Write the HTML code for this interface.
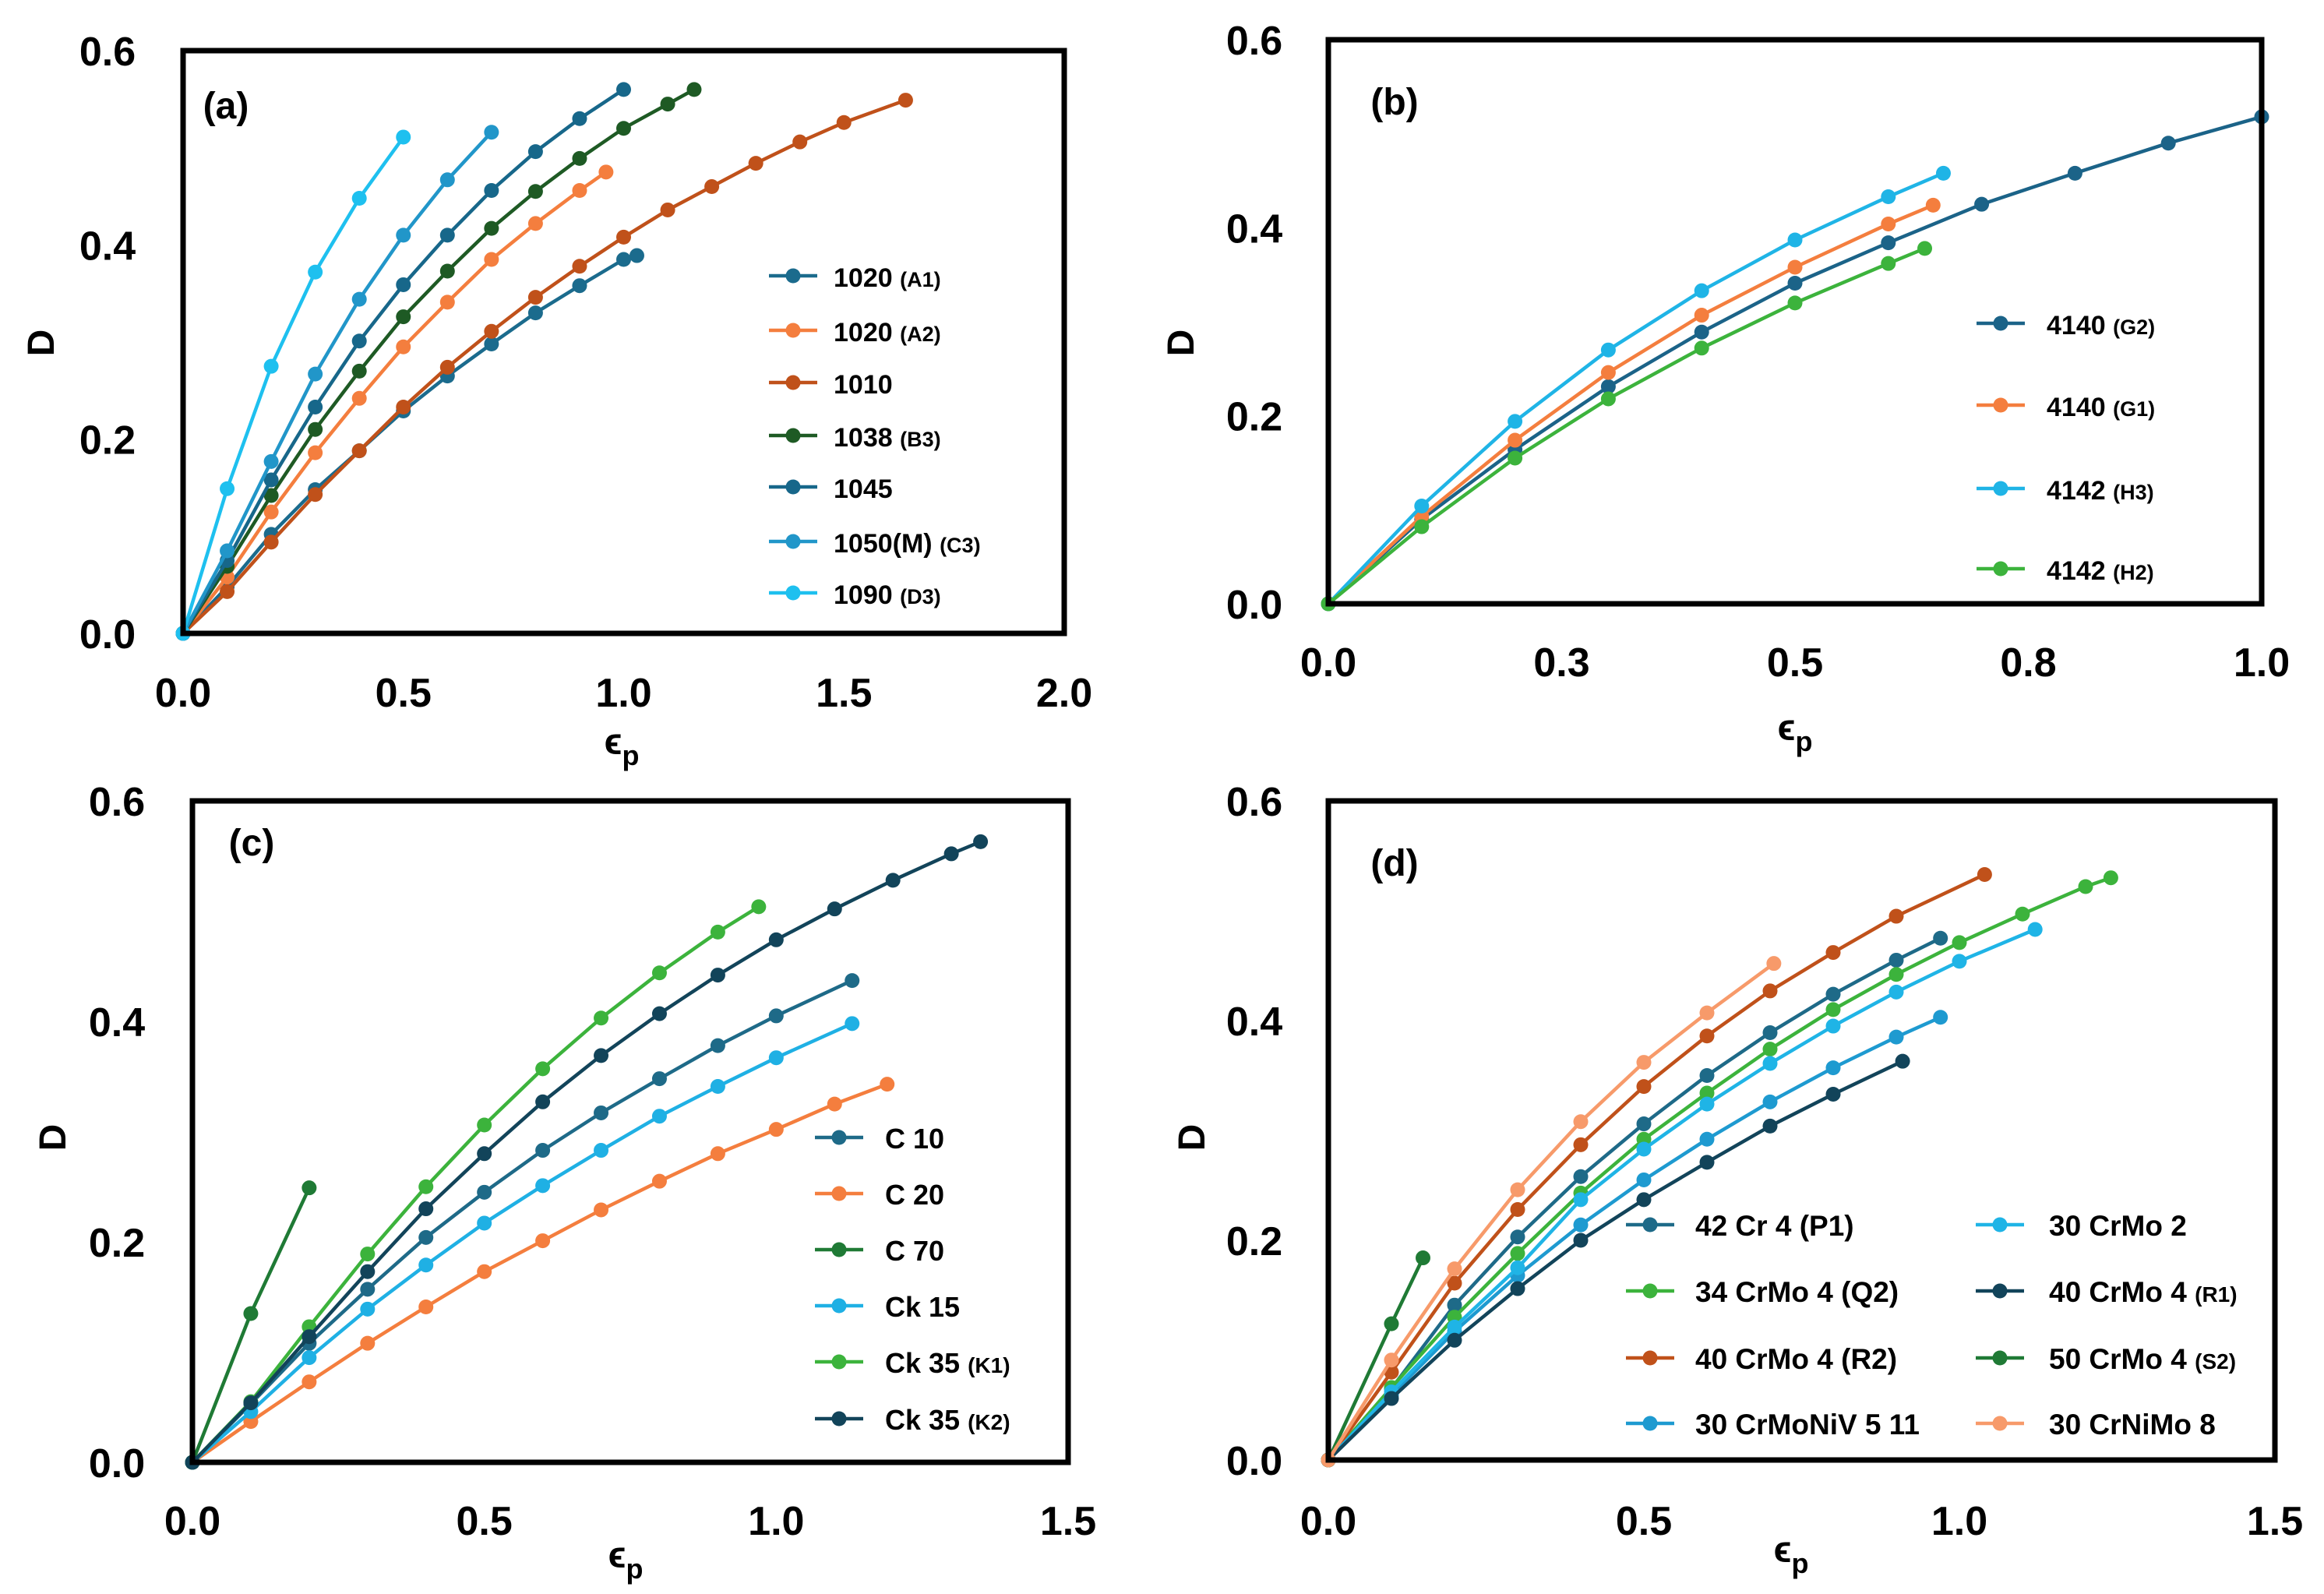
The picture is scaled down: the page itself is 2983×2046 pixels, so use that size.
<!DOCTYPE html>
<html><head><meta charset="utf-8"><title>Damage vs plastic strain</title>
<style>
html,body{margin:0;padding:0;background:#fff;}
svg{display:block;font-family:"Liberation Sans",Arial,sans-serif;font-weight:bold;}
</style></head>
<body>
<svg id="fig" xmlns="http://www.w3.org/2000/svg" width="2983" height="2046" viewBox="0 0 2983 2046"></svg>
<script>
// ---------- Panel (a) data ----------
const aNames = ["1020", "1020", "1010", "1038", "1045", "1050(M)", "1090"];
const aTags = ["(A1)", "(A2)", "", "(B3)", "", "(C3)", "(D3)"];
const aX_A1 = [0,0.1,0.2,0.3,0.4,0.5,0.6,0.7,0.8,0.9,1.0,1.03];
const aY_A1 = [0,0.048,0.102,0.148,0.188,0.229,0.265,0.298,0.330,0.358,0.385,0.389];
const aX_A2 = [0,0.1,0.2,0.3,0.4,0.5,0.6,0.7,0.8,0.9,0.96];
const aY_A2 = [0,0.058,0.125,0.186,0.242,0.295,0.341,0.385,0.422,0.456,0.475];
const aX_1010 = [0,0.1,0.2,0.3,0.4,0.5,0.6,0.7,0.8,0.9,1.0,1.1,1.2,1.3,1.4,1.5,1.64];
const aY_1010 = [0,0.043,0.094,0.143,0.188,0.233,0.274,0.311,0.346,0.378,0.408,0.436,0.460,0.484,0.506,0.526,0.549];
const aX_B3 = [0,0.1,0.2,0.3,0.4,0.5,0.6,0.7,0.8,0.9,1.0,1.1,1.16];
const aY_B3 = [0,0.069,0.142,0.210,0.270,0.326,0.373,0.417,0.455,0.489,0.520,0.545,0.560];
const aX_1045 = [0,0.1,0.2,0.3,0.4,0.5,0.6,0.7,0.8,0.9,1.0];
const aY_1045 = [0,0.075,0.158,0.233,0.301,0.359,0.410,0.456,0.496,0.530,0.560];
const aX_C3 = [0,0.1,0.2,0.3,0.4,0.5,0.6,0.7];
const aY_C3 = [0,0.085,0.177,0.267,0.344,0.410,0.467,0.516];
const aX_D3 = [0,0.1,0.2,0.3,0.4,0.5];
const aY_D3 = [0,0.149,0.275,0.372,0.448,0.511];
const aXTicks = ["0.0","0.5","1.0","1.5","2.0"];
const aXTickVals = [0,0.5,1.0,1.5,2.0];

// ---------- Panel (b) data ----------
const bNames = ["4140","4140","4142","4142"];
const bTags = ["(G2)","(G1)","(H3)","(H2)"];
const bX_G2 = [0,0.1,0.2,0.3,0.4,0.5,0.6,0.7,0.8,0.9,1.0];
const bY_G2 = [0,0.090,0.164,0.231,0.289,0.341,0.384,0.425,0.458,0.490,0.518];
const bX_G1 = [0,0.1,0.2,0.3,0.4,0.5,0.6,0.648];
const bY_G1 = [0,0.093,0.174,0.246,0.307,0.358,0.404,0.424];
const bX_H3 = [0,0.1,0.2,0.3,0.4,0.5,0.6,0.659];
const bY_H3 = [0,0.104,0.194,0.270,0.333,0.387,0.433,0.458];
const bX_H2 = [0,0.1,0.2,0.3,0.4,0.5,0.6,0.639];
const bY_H2 = [0,0.082,0.155,0.218,0.272,0.320,0.362,0.378];
const bXTicks = ["0.0","0.3","0.5","0.8","1.0"];
const bXTickVals = [0,0.25,0.5,0.75,1.0];

// ---------- Panel (c) data ----------
const cNames = ["C 10","C 20","C 70","Ck 15","Ck 35","Ck 35"];
const cTags = ["","","","","(K1)","(K2)"];
const cX_C10 = [0,0.1,0.2,0.3,0.4,0.5,0.6,0.7,0.8,0.9,1.0,1.13];
const cY_C10 = [0,0.053,0.108,0.157,0.204,0.245,0.283,0.317,0.348,0.378,0.405,0.437];
const cX_C20 = [0,0.1,0.2,0.3,0.4,0.5,0.6,0.7,0.8,0.9,1.0,1.1,1.19];
const cY_C20 = [0,0.037,0.073,0.108,0.141,0.173,0.201,0.229,0.255,0.280,0.302,0.325,0.343];
const cX_C70 = [0,0.1,0.2];
const cY_C70 = [0,0.135,0.249];
const cX_Ck15 = [0,0.1,0.2,0.3,0.4,0.5,0.6,0.7,0.8,0.9,1.0,1.13];
const cY_Ck15 = [0,0.046,0.095,0.139,0.179,0.217,0.251,0.283,0.314,0.341,0.367,0.398];
const cX_K1 = [0,0.1,0.2,0.3,0.4,0.5,0.6,0.7,0.8,0.9,0.97];
const cY_K1 = [0,0.055,0.123,0.189,0.250,0.306,0.357,0.403,0.444,0.481,0.504];
const cX_K2 = [0,0.1,0.2,0.3,0.4,0.5,0.6,0.7,0.8,0.9,1.0,1.1,1.2,1.3,1.35];
const cY_K2 = [0,0.054,0.114,0.173,0.230,0.280,0.327,0.369,0.407,0.442,0.474,0.502,0.528,0.552,0.563];
const cXTicks = ["0.0","0.5","1.0","1.5"];
const cXTickVals = [0,0.5,1.0,1.5];

// ---------- Panel (d) data ----------
const dNames = ["42 Cr 4","34 CrMo 4","40 CrMo 4","30 CrMoNiV 5 11","30 CrMo 2","40 CrMo 4","50 CrMo 4","30 CrNiMo 8"];
const dTags = ["(P1)","(Q2)","(R2)","","","(R1)","(S2)",""];
const dX_P1 = [0,0.1,0.2,0.3,0.4,0.5,0.6,0.7,0.8,0.9,0.97];
const dY_P1 = [0,0.065,0.141,0.203,0.258,0.306,0.350,0.389,0.424,0.455,0.475];
const dX_Q2 = [0,0.1,0.2,0.3,0.4,0.5,0.6,0.7,0.8,0.9,1.0,1.1,1.2,1.24];
const dY_Q2 = [0,0.066,0.130,0.188,0.243,0.292,0.334,0.374,0.410,0.442,0.471,0.497,0.522,0.530];
const dX_R2 = [0,0.1,0.2,0.3,0.4,0.5,0.6,0.7,0.8,0.9,1.04];
const dY_R2 = [0,0.080,0.161,0.228,0.287,0.340,0.386,0.427,0.462,0.495,0.533];
const dX_NiV = [0,0.1,0.2,0.3,0.4,0.5,0.6,0.7,0.8,0.9,0.97];
const dY_NiV = [0,0.059,0.117,0.168,0.214,0.255,0.292,0.326,0.357,0.385,0.403];
const dX_Mo2 = [0,0.1,0.2,0.3,0.4,0.5,0.6,0.7,0.8,0.9,1.0,1.12];
const dY_Mo2 = [0,0.062,0.121,0.175,0.237,0.283,0.324,0.361,0.395,0.426,0.454,0.483];
const dX_R1 = [0,0.1,0.2,0.3,0.4,0.5,0.6,0.7,0.8,0.91];
const dY_R1 = [0,0.056,0.109,0.156,0.200,0.237,0.271,0.304,0.333,0.363];
const dX_S2 = [0,0.1,0.15];
const dY_S2 = [0,0.124,0.184];
const dX_NiMo = [0,0.1,0.2,0.3,0.4,0.5,0.6,0.706];
const dY_NiMo = [0,0.091,0.174,0.246,0.308,0.362,0.407,0.452];
const dXTicks = ["0.0","0.5","1.0","1.5"];
const dXTickVals = [0,0.5,1.0,1.5];

const yTicks = ["0.0","0.2","0.4","0.6"];
const yTickVals = [0,0.2,0.4,0.6];

const NS = "http://www.w3.org/2000/svg";
const svg = document.getElementById("fig");
function mk(tag, attrs, parent){
  const e = document.createElementNS(NS, tag);
  for (const k in attrs) e.setAttribute(k, attrs[k]);
  (parent||svg).appendChild(e);
  return e;
}

const panels = [
  {id:"a", L:235, R:1366, T:65, B:813, xmax:2.0, xt:aXTicks, xv:aXTickVals,
   ylabX:138, xlabY:907, epsX:798, epsY:968, dX:52, dY:440, tagX:290, tagY:152,
   series:[[aX_A1,aY_A1,"#1b6b8d"],[aX_A2,aY_A2,"#f47e3e"],[aX_1010,aY_1010,"#c0511a"],[aX_B3,aY_B3,"#1e5a24"],[aX_1045,aY_1045,"#17678a"],[aX_C3,aY_C3,"#2196c9"],[aX_D3,aY_D3,"#1ec0ef"]],
   names:aNames, tags:aTags, legend:{cols:[{lx:987,tx:1070,rows:[354,424,491,559,625,695,761]}], fs:34, tfs:27}},
  {id:"b", L:1705, R:2903, T:51, B:775, xmax:1.0, xt:bXTicks, xv:bXTickVals,
   ylabX:1610, xlabY:868, epsX:2304, epsY:950, dX:1515, dY:440, tagX:1790, tagY:147,
   series:[[bX_G2,bY_G2,"#1b6388"],[bX_G1,bY_G1,"#f47e3e"],[bX_H3,bY_H3,"#1fb4e6"],[bX_H2,bY_H2,"#3cb33c"]],
   names:bNames, tags:bTags, legend:{cols:[{lx:2537,tx:2627,rows:[415,520,627,730]}], fs:34, tfs:27}},
  {id:"c", L:247, R:1371, T:1028, B:1877, xmax:1.5, xt:cXTicks, xv:cXTickVals,
   ylabX:150, xlabY:1970, epsX:803, epsY:2012, dX:67, dY:1460, tagX:323, tagY:1098,
   series:[[cX_C10,cY_C10,"#1e6a88"],[cX_C20,cY_C20,"#f47e3e"],[cX_C70,cY_C70,"#1f7a35"],[cX_Ck15,cY_Ck15,"#1fb0e4"],[cX_K1,cY_K1,"#3cb33c"],[cX_K2,cY_K2,"#12445a"]],
   names:cNames, tags:cTags, legend:{cols:[{lx:1046,tx:1136,rows:[1460,1532,1604,1676,1748,1821]}], fs:36, tfs:28}},
  {id:"d", L:1705, R:2920, T:1028, B:1874, xmax:1.5, xt:dXTicks, xv:dXTickVals,
   ylabX:1610, xlabY:1970, epsX:2299, epsY:2005, dX:1529, dY:1460, tagX:1790, tagY:1124,
   series:[[dX_P1,dY_P1,"#1e6a88"],[dX_Q2,dY_Q2,"#3cb33c"],[dX_R2,dY_R2,"#c0511a"],[dX_NiV,dY_NiV,"#1e9ad0"],[dX_Mo2,dY_Mo2,"#1fb4e6"],[dX_R1,dY_R1,"#12445a"],[dX_S2,dY_S2,"#1f7a35"],[dX_NiMo,dY_NiMo,"#f79a6a"]],
   names:dNames, tags:dTags, legend:{cols:[{lx:2087,tx:2176,rows:[1572,1657,1743,1827],idx:[0,1,2,3]},{lx:2536,tx:2630,rows:[1572,1657,1743,1827],idx:[4,5,6,7]}], fs:37, tfs:28, big:[0,1,2]}}
];

panels.forEach(p => {
  const g = mk("g", {});
  
  
  const sx = v => p.L + v / p.xmax * (p.R - p.L);
  const sy = v => p.B - v / 0.6 * (p.B - p.T);

  p.series.forEach((s, i) => {
    const sg = mk("g", {}, g);
    
    
    const pts = s[0].map((x, j) => sx(x).toFixed(1) + "," + sy(s[1][j]).toFixed(1)).join(" ");
    const pl = mk("polyline", {points:pts, fill:"none", stroke:s[2], "stroke-width":4.5, "stroke-linejoin":"round"}, sg);
    
    
    s[0].forEach((x, j) => {
      const c = mk("circle", {cx:sx(x), cy:sy(s[1][j]), r:9.5, fill:s[2]}, sg);
      
      
    });
  });

  const fr = mk("rect", {x:p.L, y:p.T, width:p.R-p.L, height:p.B-p.T, fill:"none", stroke:"#000", "stroke-width":7}, g);
  
  

  yTicks.forEach((t, i) => {
    const e = mk("text", {x:p.ylabX, y:sy(yTickVals[i]) + 19, "text-anchor":"middle", "font-size":52, fill:"#000"}, g);
    e.textContent = t;
    
    
  });
  p.xt.forEach((t, i) => {
    const e = mk("text", {x:sx(p.xv[i]), y:p.xlabY, "text-anchor":"middle", "font-size":52, fill:"#000"}, g);
    e.textContent = t;
    
    
  });
  const xt = mk("text", {x:p.epsX, y:p.epsY, "text-anchor":"middle", "font-size":48, fill:"#000"}, g);
  xt.innerHTML = 'ϵ<tspan font-size="36" dy="14">p</tspan>';
  
  
  const yt = mk("text", {x:p.dX, y:p.dY, "text-anchor":"middle", "font-size":48, fill:"#000", transform:"rotate(-90 " + p.dX + " " + p.dY + ")", dy:17}, g);
  yt.textContent = "D";
  
  
  const tg = mk("text", {x:p.tagX, y:p.tagY, "text-anchor":"middle", "font-size":48, fill:"#000"}, g);
  tg.textContent = "(" + p.id + ")";
  
  

  const lg = mk("g", {}, g);
  
  
  p.legend.cols.forEach(col => {
    col.rows.forEach((ry, k) => {
      const i = col.idx ? col.idx[k] : k;
      const color = p.series[i][2];
      const eg = mk("g", {}, lg);
      
      
      mk("line", {x1:col.lx, x2:col.lx+62, y1:ry, y2:ry, stroke:color, "stroke-width":4.5}, eg);
      mk("circle", {cx:col.lx+31, cy:ry, r:9.5, fill:color}, eg);
      const t = mk("text", {x:col.tx, y:ry + 14, "font-size":p.legend.fs, fill:"#000"}, eg);
      let html = p.names[i];
      if (p.tags[i]) {
        const big = p.legend.big && p.legend.big.indexOf(i) >= 0;
        html += ' <tspan font-size="' + (big ? p.legend.fs : p.legend.tfs) + '">' + p.tags[i] + '</tspan>';
      }
      t.innerHTML = html;
    });
  });
});
</script>
</body></html>
